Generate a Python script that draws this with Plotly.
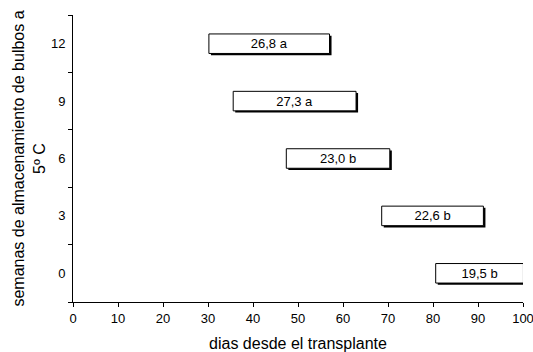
import plotly.graph_objects as go

categories = ["0", "3", "6", "9", "12"]
start_days = [80.6, 68.6, 47.4, 35.6, 30.2]
durations = [19.5, 22.6, 23.0, 27.3, 26.8]
bar_labels = ["19,5 b", "22,6 b", "23,0 b", "27,3 a", "26,8 a"]
x_ticks = list(range(0, 101, 10))

FONT = "Liberation Sans, Arial, sans-serif"
W = 0.34

fig = go.Figure()
# shadow
fig.add_trace(go.Bar(
    y=categories, x=durations, base=[s + 0.45 for s in start_days], orientation="h",
    width=W, offset=-W / 2 - 0.03, marker=dict(color="black", line=dict(width=0)),
    hoverinfo="skip", showlegend=False))
# main bars
fig.add_trace(go.Bar(
    y=categories, x=durations, base=start_days, orientation="h",
    width=W, offset=-W / 2, marker=dict(color="white", line=dict(color="black", width=1)),
    text=bar_labels, textposition="inside", insidetextanchor="middle",
    constraintext="none", textangle=0,
    textfont=dict(family=FONT, size=13, color="black"), showlegend=False))

fig.update_layout(
    width=533, height=352, autosize=False, barmode="overlay",
    margin=dict(l=73, r=10, t=15, b=50, autoexpand=False),
    plot_bgcolor="white", paper_bgcolor="white",
    font=dict(family=FONT, size=13, color="black"),
    xaxis=dict(range=[0, 100], tickvals=x_ticks, ticks="outside", ticklen=4,
               tickcolor="black", showline=True, linecolor="black", linewidth=1,
               showgrid=False, zeroline=False, automargin=False,
               ticklabeloverflow="allow",
               title=dict(text="dias desde el transplante", standoff=21)),
    yaxis=dict(type="category", categoryorder="array", categoryarray=categories,
               range=[-0.5, 4.5], tickson="boundaries", ticks="outside", ticklen=4,
               tickcolor="black", showline=True, linecolor="black", linewidth=1,
               showgrid=False, zeroline=False, ticklabelstandoff=4, automargin=False,
               title=dict(text="semanas de almacenamiento de bulbos a<br>5º C", standoff=1)),
)

fig.write_html("out.html", config={"displayModeBar": False},
               post_script="document.body.style.margin='0';document.body.style.overflow='hidden';")
